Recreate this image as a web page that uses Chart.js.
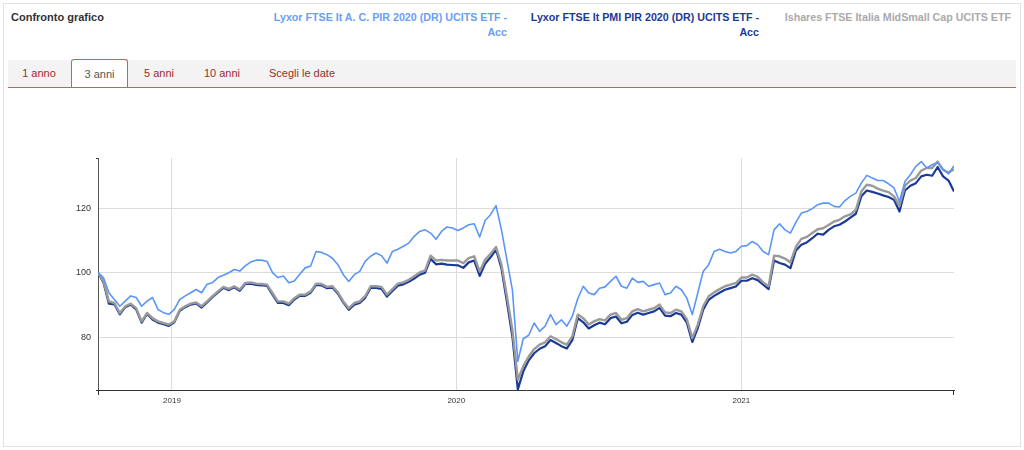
<!DOCTYPE html>
<html>
<head>
<meta charset="utf-8">
<script src="https://cdn.jsdelivr.net/npm/chart.js@4/dist/chart.umd.min.js"></script>
<style>
  html, body { margin: 0; padding: 0; background: #fff; width: 1024px; height: 450px; overflow: hidden; font-family: "Liberation Sans", Arial, sans-serif; }
  #frame { position: absolute; left: 3px; top: 3px; width: 1016px; height: 442px; border: 1px solid #e2e2e2; }
  #title { position: absolute; left: 11px; top: 11px; font-size: 11px; font-weight: bold; color: #333; }
  .leg { position: absolute; top: 10px; font-size: 10.7px; font-weight: bold; text-align: right; line-height: 15px; white-space: nowrap; }
  #tabs { position: absolute; left: 8px; top: 60px; width: 1008px; height: 27px; background: #f3f3f3; border-bottom: 1px solid #e0555c; }
  .tab { position: absolute; top: 0; height: 27px; line-height: 27px; font-size: 11px; color: #9e2b2b; text-align: center; }
  .tab.active { background: #fff; color: #555; border: 1px solid #e0555c; border-bottom: none; border-radius: 3px 3px 0 0; height: 27px; top: -1px; line-height: 28px; }
  #chart { position: absolute; left: 0; top: 0; }
</style>
</head>
<body>
<div id="frame"></div>
<div id="title">Confronto grafico</div>
<div id="leg0" class="leg"></div>
<div id="leg1" class="leg"></div>
<div id="leg2" class="leg"></div>
<div id="tabs"></div>
<canvas id="chart" width="1024" height="450"></canvas>
<script>
// ---- data ----
const seriesNames = [
  "Lyxor FTSE It A. C. PIR 2020 (DR) UCITS ETF - Acc",
  "Lyxor FTSE It PMI PIR 2020 (DR) UCITS ETF - Acc",
  "Ishares FTSE Italia MidSmall Cap UCITS ETF"
];
const tabLabels = ["1 anno", "3 anni", "5 anni", "10 anni", "Scegli le date"];
const activeTab = 1;

// weekly observations (Fridays) from startDate
const startDate = "2018-09-28";
const endDate = "2021-10-01";
const stepDays = 7;

const seriesA = [
  100.0, 98.5, 93.8, 91.7, 89.6, 91.2, 92.8, 92.3, 89.6, 91.2,
  92.3, 88.6, 87.6, 87.1, 88.6, 91.7, 92.8, 93.8, 94.8, 93.8,
  96.4, 96.9, 98.5, 99.2, 100.0, 101.0, 100.5, 102.1, 103.3, 103.9,
  103.9, 103.5, 100.0, 98.5, 99.0, 96.9, 97.4, 99.5, 101.5, 102.1,
  106.6, 106.3, 105.6, 104.5, 102.5, 99.4, 97.3, 99.4, 100.4, 103.5,
  105.1, 106.1, 105.3, 103.0, 106.6, 107.3, 108.2, 109.2, 111.3, 112.8,
  113.3, 112.3, 110.4, 112.8, 114.2, 113.9, 113.1, 113.9, 114.9, 115.2,
  111.1, 116.2, 118.0, 120.8, 113.3, 104.0, 94.7, 72.5, 79.5, 80.6,
  84.4, 81.8, 83.4, 87.0, 83.9, 85.4, 83.4, 86.5, 92.0, 95.8,
  93.7, 93.2, 95.2, 95.6, 97.3, 98.9, 95.8, 95.2, 98.3, 97.0,
  97.3, 95.8, 96.3, 96.8, 93.2, 93.7, 95.8, 94.7, 92.1, 87.0,
  93.7, 100.4, 102.5, 106.6, 107.3, 106.6, 106.1, 106.6, 108.2, 108.4,
  109.7, 108.7, 106.6, 105.6, 113.3, 115.2, 113.3, 112.3, 115.6, 118.5,
  119.0, 119.9, 121.1, 121.6, 121.6, 120.6, 120.4, 122.4, 123.7, 124.7,
  127.8, 130.2, 129.4, 128.6, 128.6, 127.6, 126.3, 122.1, 128.3, 130.4,
  133.0, 134.5, 132.5, 133.5, 134.2, 132.1, 130.7, 133.2
];
const seriesB = [
  100.0, 97.0, 90.4, 90.2, 87.1, 89.3, 90.1, 88.6, 84.5, 87.2,
  85.5, 84.5, 84.0, 83.5, 84.6, 88.2, 89.3, 90.1, 90.5, 89.2,
  90.8, 92.4, 93.9, 95.3, 94.6, 95.5, 94.4, 96.5, 96.6, 96.2,
  96.1, 95.9, 93.2, 90.6, 90.6, 89.9, 91.7, 92.8, 92.8, 93.8,
  96.2, 96.1, 95.2, 95.4, 93.5, 90.7, 88.5, 90.1, 90.6, 92.2,
  95.3, 95.3, 95.0, 92.6, 94.3, 96.0, 96.4, 97.2, 98.2, 99.4,
  100.0, 104.3, 102.6, 102.8, 102.5, 102.4, 102.3, 101.5, 103.2, 103.8,
  99.0, 102.8, 104.8, 107.2, 101.3, 91.0, 80.2, 63.8, 69.4, 72.8,
  75.0, 76.4, 77.2, 79.1, 78.2, 77.2, 76.5, 79.1, 85.9, 84.6,
  82.7, 83.7, 84.5, 84.0, 85.9, 86.4, 84.3, 84.8, 86.9, 87.6,
  87.0, 87.5, 88.0, 89.1, 86.7, 86.5, 87.5, 87.0, 84.5, 78.5,
  82.8, 88.5, 91.6, 92.8, 93.8, 94.7, 95.2, 95.7, 97.5, 97.5,
  98.3, 97.7, 96.3, 94.9, 103.8, 103.0, 102.5, 101.4, 106.9, 108.7,
  109.4, 110.7, 112.1, 111.8, 113.3, 114.4, 114.9, 115.9, 117.1, 118.3,
  123.7, 125.5, 125.1, 124.6, 124.0, 123.5, 122.6, 119.0, 125.5, 127.0,
  127.8, 129.9, 130.4, 130.1, 132.8, 129.9, 128.6, 125.2
];
const seriesC = [
  100.0, 97.3, 91.1, 90.6, 87.5, 89.6, 90.4, 89.0, 84.9, 87.5,
  85.9, 84.9, 84.4, 83.9, 84.9, 88.5, 89.6, 90.4, 90.8, 89.6,
  91.1, 92.7, 94.2, 95.6, 95.0, 95.8, 94.8, 96.8, 97.0, 96.6,
  96.5, 96.3, 93.7, 91.1, 91.1, 90.4, 92.1, 93.2, 93.2, 94.2,
  96.6, 96.5, 95.6, 95.8, 93.9, 91.1, 89.0, 90.6, 91.1, 92.7,
  95.8, 95.8, 95.6, 93.2, 94.9, 96.6, 97.0, 97.8, 98.9, 100.1,
  100.7, 105.3, 103.8, 104.0, 103.8, 103.8, 103.8, 103.0, 104.5, 105.1,
  100.4, 104.0, 105.9, 108.0, 102.5, 92.7, 82.3, 66.8, 71.0, 74.0,
  76.3, 77.7, 78.4, 80.3, 79.4, 78.4, 77.7, 80.3, 87.0, 85.9,
  83.9, 84.9, 85.6, 85.2, 87.0, 87.5, 85.4, 85.9, 88.0, 88.7,
  88.0, 88.5, 89.0, 90.1, 87.7, 87.5, 88.5, 88.0, 85.6, 79.7,
  83.9, 89.6, 92.7, 93.9, 94.9, 95.8, 96.3, 96.8, 98.5, 98.5,
  99.4, 98.7, 97.0, 95.8, 105.3, 105.1, 104.4, 103.2, 108.0, 110.5,
  111.1, 112.3, 113.5, 113.8, 114.8, 115.9, 116.4, 117.5, 118.1, 119.5,
  125.2, 127.3, 127.0, 126.1, 125.5, 125.0, 123.7, 120.8, 127.0, 128.6,
  129.4, 131.7, 132.5, 132.5, 134.5, 131.9, 131.1, 132.1
];

const xTickYears = [2019, 2020, 2021];
const xTickLabels = ["2019", "2020", "2021"];
const yTickValues = [80, 100, 120];
const yMin = 63.6, yMax = 135.6;

// ---- styling ----
const lineColors = ["#5b95f5", "#1b3a96", "#9a9a9a"];
const legendColors = ["#6a9ef3", "#1b3a96", "#aaaaaa"];

// ---- header / tabs ----
const legendBoxes = [
  { right: 517, text: "Lyxor FTSE It A. C. PIR 2020 (DR) UCITS ETF -<br>Acc" },
  { right: 265, text: "Lyxor FTSE It PMI PIR 2020 (DR) UCITS ETF -<br>Acc" },
  { right: 13, text: "Ishares FTSE Italia MidSmall Cap UCITS ETF" }
];
legendBoxes.forEach((b, i) => {
  const el = document.getElementById("leg" + i);
  el.style.right = b.right + "px";
  el.style.color = legendColors[i];
  el.innerHTML = b.text;
});
const tabBoxes = [[0, 62], [63, 55], [121, 60], [181, 66], [247, 94]];
const tabsEl = document.getElementById("tabs");
tabLabels.forEach((t, i) => {
  const s = document.createElement("div");
  s.className = "tab" + (i === activeTab ? " active" : "");
  s.style.left = tabBoxes[i][0] + "px";
  s.style.width = tabBoxes[i][1] + "px";
  s.textContent = t;
  tabsEl.appendChild(s);
});

// ---- build points ----
function dayMs(s) { return Date.parse(s + "T00:00:00Z"); }
const t0 = dayMs(startDate), t1 = dayMs(endDate);
const dates = seriesA.map((_, i) => t0 + i * stepDays * 86400000);
const toPts = arr => arr.map((v, i) => ({ x: dates[i], y: v }));

const axisDeco = {
  id: "axisDeco",
  afterDraw(chart) {
    const { ctx, chartArea: a } = chart;
    ctx.save();
    ctx.strokeStyle = "#333";
    ctx.lineWidth = 1;
    ctx.beginPath();
    ctx.moveTo(a.left - 2, a.bottom + 0.5); ctx.lineTo(a.left, a.bottom + 0.5);
    ctx.moveTo(a.left + 0.5, a.bottom); ctx.lineTo(a.left + 0.5, a.bottom + 5);
    ctx.moveTo(a.right - 0.5, a.bottom); ctx.lineTo(a.right - 0.5, a.bottom + 5);
    ctx.moveTo(a.left - 2, a.top + 0.5); ctx.lineTo(a.left, a.top + 0.5);
    ctx.stroke();
    ctx.restore();
  }
};

new Chart(document.getElementById("chart"), {
  type: "line",
  data: {
    datasets: [
      { label: seriesNames[0], data: toPts(seriesA), borderColor: lineColors[0], borderWidth: 1.6, order: 0 },
      { label: seriesNames[2], data: toPts(seriesC), borderColor: lineColors[2], borderWidth: 2.4, order: 1 },
      { label: seriesNames[1], data: toPts(seriesB), borderColor: lineColors[1], borderWidth: 2.2, order: 2 }
    ]
  },
  options: {
    responsive: false,
    animation: false,
    events: [],
    elements: { point: { radius: 0 }, line: { tension: 0, borderJoinStyle: "round" } },
    layout: { padding: { left: 0, right: 70, top: 158, bottom: 0 } },
    plugins: { legend: { display: false }, tooltip: { enabled: false } },
    scales: {
      x: {
        type: "linear",
        min: t0, max: t1,
        afterBuildTicks: s => { s.ticks = xTickYears.map(y => ({ value: Date.UTC(y, 0, 1) })); },
        afterFit: s => { s.height = 60; },
        ticks: {
          callback: (v, i) => xTickLabels[i],
          autoSkip: false, maxRotation: 0, padding: 6,
          color: "#333", font: { family: "'Liberation Sans', Arial", size: 8 }
        },
        grid: { color: "#dcdcdc", drawTicks: false },
        border: { display: true, color: "#333", width: 1 }
      },
      y: {
        min: yMin, max: yMax,
        afterBuildTicks: s => { s.ticks = yTickValues.map(v => ({ value: v })); },
        afterFit: s => { s.width = 98; },
        ticks: {
          callback: v => String(v),
          padding: 7,
          color: "#333", font: { family: "'Liberation Sans', Arial", size: 9 }
        },
        grid: { color: "#dcdcdc", drawTicks: false },
        border: { display: true, color: "#555", width: 1 }
      }
    }
  },
  plugins: [axisDeco]
});
</script>
</body>
</html>
